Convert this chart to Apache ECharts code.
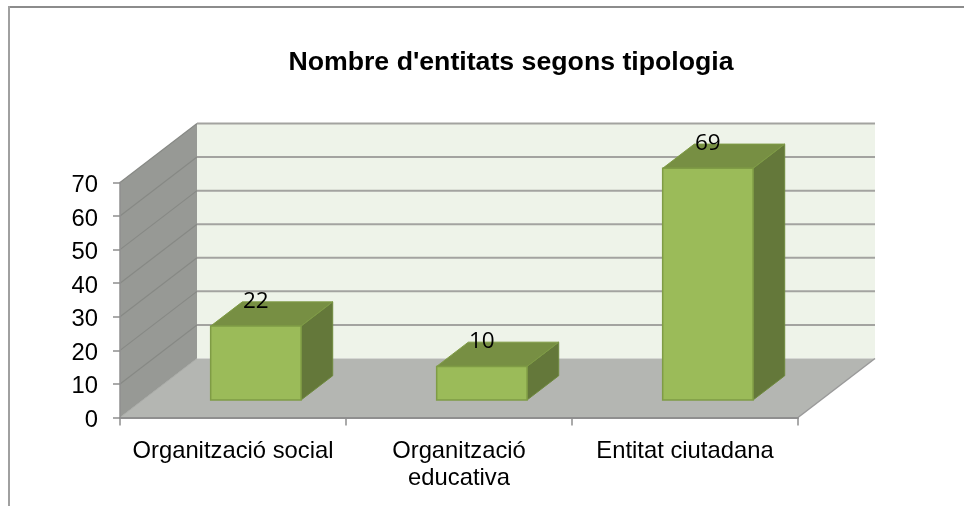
<!DOCTYPE html>
<html><head><meta charset="utf-8">
<style>html,body{margin:0;padding:0;background:#fff}#c{width:964px;height:506px}</style>
<script src="https://cdn.jsdelivr.net/npm/echarts@6/dist/echarts.min.js"></script>
</head><body><div id="c"></div>
<script>
const chartTitle = "Nombre d'entitats segons tipologia";
const categories = ['Organització social', 'Organització\neducativa', 'Entitat ciutadana'];
const values = [22, 10, 69];
const wallTicks = [10, 20, 30, 40, 50, 60, 70];
const wallBase = [0];
const yMax = 70, yStep = 10;
// style: projection of the 3D box
const depthX = 77, depthY = -59, barFront = 0.297, barBack = 0.708, barShare = 0.4;
const colors = {side:'#979995', floor:'#b4b6b2', back:'#eef3e9', grid:'#a3a3a0', sideGrid:'#878985', edge:'#9a9a9a',
  front:'#9bbb59', frontStroke:'#7f9c45', top:'#778f43', side3:'#64783a', axis:'#8f8f8f', frame:'#8c8c8c'};
const proj = (p, d) => [p[0] + depthX * d, p[1] + depthY * d];
const poly = (points, fill, stroke, lw) => ({type:'polygon', shape:{points},
  style:{fill, stroke: stroke || fill, lineWidth: lw === undefined ? 1 : lw}});
const line = (a, b, stroke, lw) => ({type:'line', shape:{x1:a[0], y1:a[1], x2:b[0], y2:b[1]}, style:{stroke, lineWidth:lw}});

function renderBase(params, api) {
  const band = api.size([1, 0])[0];
  const lb = api.coord([0, 0]), rb = api.coord([categories.length - 1, 0]);
  const lt = api.coord([0, yMax]);
  const L = lb[0] - band / 2, R = rb[0] + band / 2, B = lb[1], T = lt[1];
  return {type:'group', children:[
    poly([proj([L,T],1), proj([R,T],1), proj([R,B],1), proj([L,B],1)], colors.back, colors.back, 0),
    poly([[L,B],[R,B],proj([R,B],1),proj([L,B],1)], colors.floor, colors.floor, 0),
    poly([[L,T],proj([L,T],1),proj([L,B],1),[L,B]], colors.side, colors.side, 0),
    line([R,B], proj([R,B],1), colors.edge, 1.5),
    line([L,B], proj([L,B],1), '#a9aba7', 1)
  ]};
}
function renderGrid(params, api) {
  const band = api.size([1, 0])[0];
  const v = api.value(1);
  const lp = api.coord([0, v]), rp = api.coord([categories.length - 1, v]);
  const L = [lp[0] - band / 2, lp[1]], R = [rp[0] + band / 2, rp[1]];
  return {type:'group', children:[
    line(L, proj(L,1), colors.sideGrid, 1.2),
    line(proj(L,1), proj(R,1), colors.grid, 2)
  ]};
}
function renderBar(params, api) {
  const band = api.size([1, 0])[0];
  const i = api.value(0), v = api.value(1);
  const b = api.coord([i, 0]), t = api.coord([i, v]);
  const w = band * barShare;
  const bl = [b[0] - w/2, b[1]], br = [b[0] + w/2, b[1]], tl = [t[0] - w/2, t[1]], tr = [t[0] + w/2, t[1]];
  const f = barFront, k = barBack;
  const lab = proj(t, f);
  return {type:'group', children:[
    poly([proj(br,f), proj(br,k), proj(tr,k), proj(tr,f)], colors.side3, '#6f8a3e', 1),
    poly([proj(tl,f), proj(tr,f), proj(tr,k), proj(tl,k)], colors.top, '#7f9c45', 1),
    poly([proj(bl,f), proj(br,f), proj(tr,f), proj(tl,f)], colors.front, colors.frontStroke, 1.5),
    {type:'text', z2:10, style:{text:String(api.value(1)), x:lab[0], y:lab[1] - 25, align:'center', verticalAlign:'middle',
      fill:'#000', font:'22.5px "Open Sans"'}}
  ]};
}
const chart = echarts.init(document.getElementById('c'), null, {renderer:'canvas'});
chart.setOption({
  animation:false,
  backgroundColor:'#fff',
  title:{text:chartTitle, left:506, top:44, textAlign:'center',
    textStyle:{fontFamily:'"Liberation Sans"', fontWeight:'bold', fontSize:26.7, color:'#000'}},
  grid:{left:120, width:678, top:182.5, height:235, containLabel:false},
  xAxis:{type:'category', data:categories, z:5,
    axisLine:{lineStyle:{color:colors.axis, width:2}},
    axisTick:{show:true, alignWithLabel:false, length:8, lineStyle:{color:colors.axis, width:1.5}},
    axisLabel:{interval:0, margin:20, fontFamily:'"Liberation Sans"', fontSize:23.8, color:'#000', lineHeight:27}},
  yAxis:{type:'value', min:0, max:yMax, interval:yStep, z:5,
    axisLine:{show:true, lineStyle:{color:colors.axis, width:1.5}},
    axisTick:{show:true, length:7, lineStyle:{color:colors.axis, width:1.5}},
    axisLabel:{margin:22, verticalAlign:'top', lineHeight:6, fontFamily:'"Liberation Sans"', fontSize:23.8, color:'#000'},
    splitLine:{show:false}},
  graphic:[
    {type:'line', silent:true, shape:{x1:8, y1:7, x2:964, y2:7}, style:{stroke:colors.frame, lineWidth:2}},
    {type:'line', silent:true, shape:{x1:9, y1:6, x2:9, y2:506}, style:{stroke:'#a0a0a0', lineWidth:2}}
  ],
  series:[
    {type:'custom', name:'base', z:1, clip:false, silent:true, renderItem:renderBase, data:wallBase.map(v => [0, v]), encode:{x:0, y:1}},
    {type:'custom', name:'grid', z:2, clip:false, silent:true, renderItem:renderGrid, data:wallTicks.map(v => [0, v]), encode:{x:0, y:1}},
    {type:'custom', name:'entitats', z:3, clip:false, renderItem:renderBar, data:values.map((v, i) => [i, v]), encode:{x:0, y:1}}
  ]
});
</script></body></html>
